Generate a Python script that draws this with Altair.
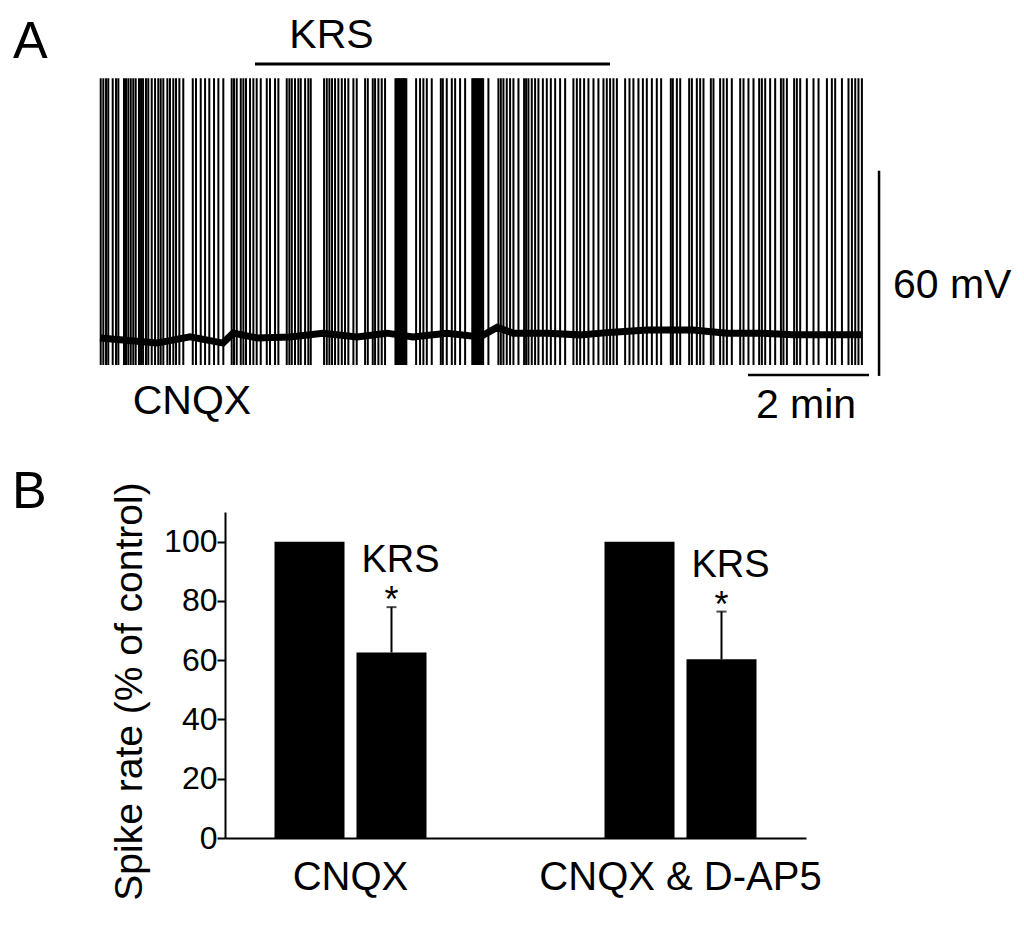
import altair as alt
import pandas as pd

FONT = "Liberation Sans"

# ---------------- Panel B data ----------------
groups = ["CNQX", "CNQX & D-AP5"]
conditions = ["Control", "KRS"]
bar_group = ["CNQX", "CNQX", "CNQX & D-AP5", "CNQX & D-AP5"]
bar_cond = ["Control", "KRS", "Control", "KRS"]
rate_mean = [100.0, 62.6, 100.0, 60.3]
rate_sem = [0.0, 15.3, 0.0, 16.1]
significance = ["", "*", "", "*"]

# ---------------- Panel A data (time in s, voltage in mV) ----------------
spike_times_s = [
    0.7, 3.3, 6.0, 8.2, 12.6, 15.9, 18.2, 23.8, 25.8, 28.1, 30.5, 33.0, 35.4,
    38.7, 40.7, 42.7, 45.6, 47.9, 51.3, 54.6, 57.8, 60.2, 62.8, 66.8, 69.4,
    72.7, 75.4, 78.7, 82.6, 92.0, 95.2, 99.9, 104.2, 108.4, 113.1, 117.4,
    122.3, 130.6, 132.9, 135.6, 139.6, 142.2, 144.8, 148.8, 152.1, 155.4,
    159.4, 165.4, 168.6, 173.6, 176.9, 185.2, 187.8, 190.2, 193.4, 196.7,
    199.1, 203.4, 206.6, 209.0, 222.2, 224.9, 227.5, 230.1, 233.1, 236.4,
    239.8, 243.0, 246.3, 251.3, 254.6, 262.9, 265.6, 270.5, 272.8, 276.1,
    279.4, 282.7,
    293.0, 294.2, 295.4, 296.6, 297.8, 299.0, 300.2, 301.4, 302.6, 303.8,
    313.5, 317.4, 320.7, 324.1, 329.0, 338.0, 340.0, 343.9, 348.9, 352.2,
    357.1, 362.1,
    369.2, 370.4, 371.6, 372.8, 374.0, 375.2, 376.4, 377.6, 378.8, 380.0,
    385.2, 395.1, 397.5, 400.1, 403.4, 406.7, 410.0, 415.0, 420.6, 422.6,
    424.9, 428.2, 431.5, 434.8, 439.2, 443.1, 447.1, 451.4, 456.3, 461.3,
    469.5, 472.9, 476.2, 480.1, 484.4, 489.4, 494.3, 499.3, 502.6, 505.9,
    509.2, 512.6, 520.8, 525.1, 529.0, 534.0, 538.4, 542.3, 547.3, 552.2,
    556.5, 566.1, 568.1, 572.1, 575.4, 584.3, 587.0, 591.9, 595.2, 598.5,
    605.8, 608.4, 615.0, 618.3, 621.7, 626.6, 634.9, 638.2, 643.1, 648.1,
    653.7, 656.4, 659.7, 664.6, 669.6, 675.3, 677.8, 681.2, 688.4, 691.1,
    694.4, 701.0, 707.6, 712.6, 720.9, 725.8, 729.1, 735.8, 742.3, 745.7,
    749.0, 752.2, 755.6,
]
spike_peak_mv = 16.5
spike_trough_mv = -67.3

baseline_t_s = [0, 22.8, 56.5, 89.3, 122, 132, 155.7, 188.4, 221, 254.9,
                284.6, 310.4, 344.1, 376.9, 393.7, 409.6, 443.3, 476, 508.8,
                542.5, 568.3, 588.1, 622, 654.5, 687.2, 721, 756]
baseline_mv = [-59.4, -60.0, -60.9, -59.1, -60.9, -58.0, -59.4, -59.1, -58.0,
               -59.1, -58.0, -59.1, -58.0, -59.1, -56.3, -58.0, -58.0, -58.5,
               -57.7, -57.1, -57.1, -57.1, -58.0, -58.0, -58.5, -58.5, -58.5]

krs_period_s = [153.7, 505.8]
krs_bar_mv = 20.7
time_bar_s = [642.6, 762.6]      # 2 min
time_bar_mv = -70.2
volt_bar_s = 772.6
volt_bar_mv = [-70.5, -10.5]     # 60 mV

letter_text = ["A", "B"]
letter_t = [-86.3, -87.3]
letter_mv = [22.5, -109.1]
center_text = ["KRS", "CNQX", "2 min"]
center_t = [229.6, 91.2, 700.2]
center_mv = [25.4, -81.6, -82.8]
side_text = ["60 mV"]
side_t = [786.4]
side_mv = [-47.7]

# ---------------- Panel B chart ----------------
bar_df = pd.DataFrame({
    "group": bar_group, "cond": bar_cond, "rate": rate_mean,
    "upper": [m + s for m, s in zip(rate_mean, rate_sem)],
    "sig": significance,
})

x_enc = alt.X("group:N", sort=groups,
              scale=alt.Scale(paddingInner=0.5394, paddingOuter=0.15),
              axis=alt.Axis(orient="bottom", ticks=False, domainColor="black",
                            domainWidth=2, labelFont=FONT, labelFontSize=40,
                            labelColor="black", labelPadding=19, labelAngle=0,
                            labelLimit=0, labelOverlap=False, title=None,
                            grid=False))
xo_enc = alt.XOffset("cond:N", sort=conditions,
                     scale=alt.Scale(paddingInner=0.146, paddingOuter=0))
y_enc = alt.Y("rate:Q", scale=alt.Scale(domain=[0, 110], nice=False),
              axis=alt.Axis(orient="left", values=list(range(0, 111, 10)),
                            labelExpr="datum.value % 20 === 0 ? datum.label : ''",
                            tickSize={"condition": {"test": "datum.value % 20 === 0",
                                                    "value": 8}, "value": 5},
                            tickWidth=2, tickColor="black",
                            domainColor="black", domainWidth=2,
                            labelFont=FONT, labelFontSize=32, labelColor="black",
                            labelPadding=0, labelOverlap=False, grid=False,
                            title="Spike rate (% of control)",
                            titleFont=FONT, titleFontSize=39,
                            titleFontWeight="normal", titleColor="black",
                            titleAngle=-90, titleX=-84, titleY=179,
                            titleAlign="center", titleBaseline="alphabetic",
                            titleLimit=0))

base_b = alt.Chart(bar_df)
bars = base_b.mark_bar(color="black").encode(x=x_enc, xOffset=xo_enc, y=y_enc)
krs_rows = base_b.transform_filter(alt.datum.cond == "KRS")
err = krs_rows.mark_rule(color="black", strokeWidth=2).encode(
    x=alt.X("group:N", sort=groups), xOffset=alt.XOffset("cond:N", sort=conditions),
    y="rate:Q", y2="upper:Q")
caps = krs_rows.mark_tick(color="black", size=10, thickness=2).encode(
    x=alt.X("group:N", sort=groups), xOffset=alt.XOffset("cond:N", sort=conditions),
    y="upper:Q")
krs_lbl = krs_rows.mark_text(font=FONT, fontSize=38, color="black",
                             align="center", baseline="alphabetic",
                             dx=9, dy=-35).encode(
    x=alt.X("group:N", sort=groups), xOffset=alt.XOffset("cond:N", sort=conditions),
    y="upper:Q", text="cond:N")
star = krs_rows.mark_text(font=FONT, fontSize=36, color="black",
                          align="center", baseline="alphabetic", dy=5).encode(
    x=alt.X("group:N", sort=groups), xOffset=alt.XOffset("cond:N", sort=conditions),
    y="upper:Q", text="sig:N")
panel_b = alt.layer(bars, err, caps, krs_lbl, star)

# ---------------- Panel A chart ----------------
xs = alt.Scale(domain=[0, 760], range=[-125, -125 + 760 * 121 / 120],
               nice=False, zero=False)
ys = alt.Scale(domain=[-80, 20], range=[-103.6, -445.6], nice=False, zero=False)

spike_df = pd.DataFrame({"t": spike_times_s,
                         "lo": [spike_trough_mv] * len(spike_times_s),
                         "hi": [spike_peak_mv] * len(spike_times_s)})
spikes = alt.Chart(spike_df).mark_rule(color="black", strokeWidth=2.0).encode(
    x=alt.X("t:Q", scale=xs, axis=None),
    y=alt.Y("lo:Q", scale=ys, axis=None), y2="hi:Q")

base_df = pd.DataFrame({"t": baseline_t_s, "v": baseline_mv})
baseline = alt.Chart(base_df).mark_line(color="black", strokeWidth=7,
                                        interpolate="linear").encode(
    x=alt.X("t:Q", scale=xs, axis=None), y=alt.Y("v:Q", scale=ys, axis=None))

krs_df = pd.DataFrame({"t1": [krs_period_s[0]], "t2": [krs_period_s[1]],
                       "v": [krs_bar_mv]})
krs_line = alt.Chart(krs_df).mark_rule(color="black", strokeWidth=3).encode(
    x=alt.X("t1:Q", scale=xs, axis=None), x2="t2:Q",
    y=alt.Y("v:Q", scale=ys, axis=None))

tbar_df = pd.DataFrame({"t1": [time_bar_s[0]], "t2": [time_bar_s[1]],
                        "v": [time_bar_mv]})
tbar = alt.Chart(tbar_df).mark_rule(color="black", strokeWidth=2.5).encode(
    x=alt.X("t1:Q", scale=xs, axis=None), x2="t2:Q",
    y=alt.Y("v:Q", scale=ys, axis=None))

vbar_df = pd.DataFrame({"t": [volt_bar_s], "v1": [volt_bar_mv[0]],
                        "v2": [volt_bar_mv[1]]})
vbar = alt.Chart(vbar_df).mark_rule(color="black", strokeWidth=2.5).encode(
    x=alt.X("t:Q", scale=xs, axis=None),
    y=alt.Y("v1:Q", scale=ys, axis=None), y2="v2:Q")

letters = alt.Chart(pd.DataFrame({"txt": letter_text, "t": letter_t,
                                  "v": letter_mv})).mark_text(
    font=FONT, fontSize=52, color="black", align="left",
    baseline="alphabetic").encode(
    x=alt.X("t:Q", scale=xs, axis=None), y=alt.Y("v:Q", scale=ys, axis=None),
    text="txt:N")
center_lbls = alt.Chart(pd.DataFrame({"txt": center_text, "t": center_t,
                                      "v": center_mv})).mark_text(
    font=FONT, fontSize=41, color="black", align="center",
    baseline="alphabetic").encode(
    x=alt.X("t:Q", scale=xs, axis=None), y=alt.Y("v:Q", scale=ys, axis=None),
    text="txt:N")
side_lbls = alt.Chart(pd.DataFrame({"txt": side_text, "t": side_t,
                                    "v": side_mv})).mark_text(
    font=FONT, fontSize=41, color="black", align="left",
    baseline="alphabetic").encode(
    x=alt.X("t:Q", scale=xs, axis=None), y=alt.Y("v:Q", scale=ys, axis=None),
    text="txt:N")

panel_a = alt.layer(spikes, baseline, krs_line, tbar, vbar, letters,
                    center_lbls, side_lbls)

chart = alt.layer(panel_b, panel_a).resolve_scale(
    x="independent", y="independent"
).properties(
    width=581, height=326,
    autosize=alt.AutoSizeParams(type="none"),
    padding={"left": 217, "top": 504, "right": 210, "bottom": 94},
    background="white",
).configure_view(stroke=None)

chart.save("out.html", embed_options={"renderer": "svg", "actions": False})
